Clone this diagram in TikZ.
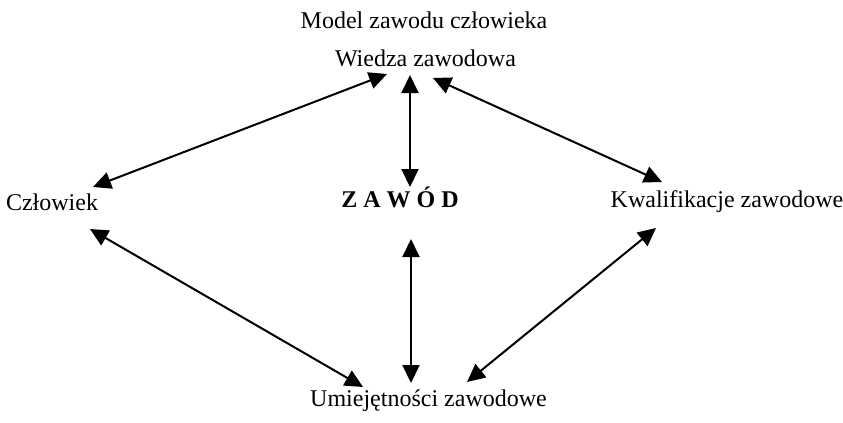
\documentclass[tikz,border=0pt]{standalone}
\usepackage{fontspec}
\setmainfont{Liberation Serif}
\usetikzlibrary{arrows.meta,calc}
\begin{document}
\begin{tikzpicture}[x=0.5pt,y=-0.5pt,
  label/.style={anchor=base,inner sep=0pt,font=\fontsize{12}{14}\selectfont},
  link/.style={line width=1pt,{Triangle[length=9pt,width=8.5pt]}-{Triangle[length=9pt,width=8.5pt]}}]
\useasboundingbox (0,0) rectangle (843,423);
% labels
\node[label] (title)    at (424,28)    {Model zawodu człowieka};
\node[label] (wiedza)   at (425.5,67)  {Wiedza zawodowa};
\node[label] (czlowiek) at (52,210)    {Człowiek};
\node[label,font=\fontsize{12}{14}\selectfont\bfseries] (zawod) at (400,207) {Z A W Ó D};
\node[label] (kwal)     at (727,207)   {Kwalifikacje zawodowe};
\node[label] (umiej)    at (428.5,407) {Umiejętności zawodowe};
% double-headed links between the parts of the model
\draw[link] ($(wiedza.base)+(-38.5,7)$) -- ($(czlowiek.base)+(41,-23)$);
\draw[link] ($(wiedza.base)+(-15.5,8)$) -- ($(zawod.base)+(10,-20)$);
\draw[link] ($(wiedza.base)+(7.5,11)$)  -- ($(kwal.base)+(-65,-25)$);
\draw[link] ($(czlowiek.base)+(38,19)$) -- ($(umiej.base)+(-65.5,-20)$);
\draw[link] ($(zawod.base)+(11,32)$)    -- ($(umiej.base)+(-17.5,-24)$);
\draw[link] ($(kwal.base)+(-71,21)$)    -- ($(umiej.base)+(38.5,-25)$);
\end{tikzpicture}
\end{document}
